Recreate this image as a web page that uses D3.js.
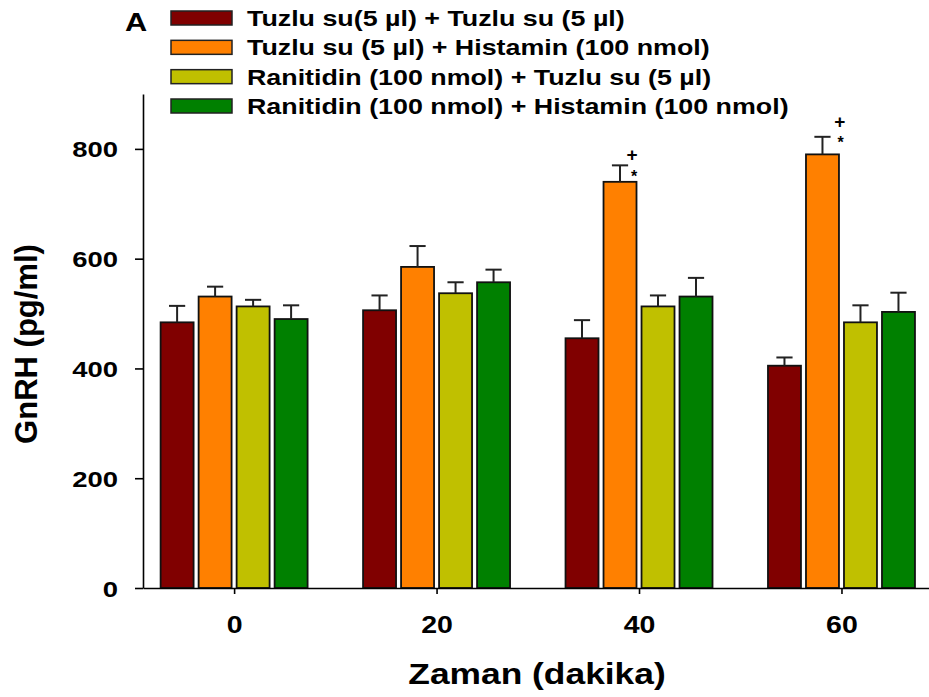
<!DOCTYPE html>
<html>
<head>
<meta charset="utf-8">
<script src="https://cdn.jsdelivr.net/npm/d3@7"></script>
<style>
  html, body { margin: 0; padding: 0; background: #fff; }
  svg { display: block; }
  text { font-family: "Liberation Sans", Arial, sans-serif; font-weight: bold; fill: #000; }
</style>
</head>
<body>
<svg id="chart" width="929" height="697"></svg>
<script>
// Sampling times (min)
const times = [0, 20, 40, 60];

// Treatment groups
const seriesNames = [
  "Tuzlu su(5 µl) + Tuzlu su (5 µl)",
  "Tuzlu su (5 µl) + Histamin (100 nmol)",
  "Ranitidin (100 nmol) + Tuzlu su (5 µl)",
  "Ranitidin (100 nmol) + Histamin (100 nmol)"
];
const seriesColors = ["#800000", "#ff8000", "#c0c000", "#008000"];

// GnRH means (pg/ml) per time point
const salineSaline        = [484, 506, 455, 405];
const salineHistamine     = [531, 585, 740, 790];
const ranitidineSaline    = [513, 537, 513, 484];
const ranitidineHistamine = [490, 557, 531, 503];

// Standard errors (pg/ml)
const salineSalineErr        = [30, 27, 33, 15];
const salineHistamineErr     = [18, 38, 30, 32];
const ranitidineSalineErr    = [12, 20, 20, 31];
const ranitidineHistamineErr = [25, 23, 34, 35];

// Significance marks: time, series index, symbol and placement (value units)
const marks = [
  { time: 40, series: 1, symbol: "+", dt: 1.2, value: 790 },
  { time: 40, series: 1, symbol: "*", dt: 1.4, value: 759 },
  { time: 60, series: 1, symbol: "+", dt: 1.7, value: 849 },
  { time: 60, series: 1, symbol: "*", dt: 1.8, value: 820 }
];

const yTicks = [0, 200, 400, 600, 800];
const xTicks = [0, 20, 40, 60];

const means = [salineSaline, salineHistamine, ranitidineSaline, ranitidineHistamine];
const errs = [salineSalineErr, salineHistamineErr, ranitidineSalineErr, ranitidineHistamineErr];

const rows = [];
times.forEach((t, i) => {
  seriesNames.forEach((s, j) => {
    rows.push({ time: t, series: j, mean: means[j][i], err: errs[j][i] });
  });
});

const svg = d3.select("#chart");
const STRETCH = 1.22;

const x = d3.scaleLinear().domain([-9, 70]).range([143, 942.7]);
const y = d3.scaleLinear().domain([0, 900]).range([588, 94]);
const inner = d3.scaleBand().domain(d3.range(seriesNames.length))
  .range([-7.26, 7.26]).paddingInner(0.132).paddingOuter(0);

const barW = x(inner.bandwidth()) - x(0);
const capHalf = (x(0.8) - x(0));

// Bars
const g = svg.append("g");
g.selectAll("rect.bar").data(rows).join("rect")
  .attr("class", "bar")
  .attr("x", d => x(d.time + inner(d.series)))
  .attr("width", barW)
  .attr("y", d => y(d.mean))
  .attr("height", d => y(0) - y(d.mean))
  .attr("fill", d => seriesColors[d.series])
  .attr("stroke", "#111")
  .attr("stroke-width", 1.8);

// Upper error bars
const cx = d => x(d.time + inner(d.series) + inner.bandwidth() / 2);
g.selectAll("line.err").data(rows).join("line")
  .attr("class", "err")
  .attr("x1", cx).attr("x2", cx)
  .attr("y1", d => y(d.mean)).attr("y2", d => y(d.mean + d.err))
  .attr("stroke", "#222").attr("stroke-width", 2);
g.selectAll("line.cap").data(rows).join("line")
  .attr("class", "cap")
  .attr("x1", d => cx(d) - capHalf).attr("x2", d => cx(d) + capHalf)
  .attr("y1", d => y(d.mean + d.err)).attr("y2", d => y(d.mean + d.err))
  .attr("stroke", "#222").attr("stroke-width", 2);

// Significance symbols
svg.selectAll("text.mark").data(marks).join("text")
  .attr("class", "mark")
  .attr("text-anchor", "middle")
  .attr("dominant-baseline", "central")
  .attr("font-size", d => d.symbol === "+" ? 19 : 16)
  .attr("dy", d => d.symbol === "*" ? "0.3em" : "0")
  .attr("transform", d => `translate(${x(d.time + inner(d.series) + inner.bandwidth() / 2 + d.dt)},${y(d.value)})`)
  .text(d => d.symbol);

// Y axis
const yAxis = svg.append("g")
  .attr("transform", `translate(${x(-9)},0)`)
  .call(d3.axisLeft(y).tickValues(yTicks).tickSize(8).tickSizeOuter(0).tickFormat(d3.format("d")));
yAxis.select(".domain").attr("stroke", "#000").attr("stroke-width", 1.6);
yAxis.selectAll(".tick line").attr("stroke", "#000").attr("stroke-width", 1.6);
yAxis.selectAll(".tick text")
  .attr("x", 0).attr("dy", "0.36em")
  .attr("transform", `translate(-25,0) scale(${STRETCH},1)`)
  .attr("font-size", 22.5).attr("font-family", null).attr("fill", "#000");

// X axis
const xAxis = svg.append("g")
  .attr("transform", `translate(0,${y(0)})`)
  .call(d3.axisBottom(x).tickValues(xTicks).tickSize(6).tickSizeOuter(0).tickFormat(d3.format("d")));
xAxis.select(".domain").attr("stroke", "#000").attr("stroke-width", 1.6);
xAxis.selectAll(".tick line").attr("stroke", "#000").attr("stroke-width", 1.6);
xAxis.selectAll(".tick text")
  .attr("y", 0).attr("dy", 0)
  .attr("transform", `translate(0,45) scale(1.24,1)`)
  .attr("font-size", 23).attr("font-family", null).attr("fill", "#000");

// Axis titles
svg.append("text")
  .attr("text-anchor", "middle")
  .attr("font-size", 29)
  .attr("transform", `translate(537,684) scale(${STRETCH},1)`)
  .text("Zaman (dakika)");

svg.append("text")
  .attr("text-anchor", "middle")
  .attr("font-size", 31)
  .attr("transform", "translate(37,344) rotate(-90)")
  .text("GnRH (pg/ml)");

// Panel letter
svg.append("text")
  .attr("font-size", 25)
  .attr("transform", `translate(125,31) scale(1.23,1)`)
  .text("A");

// Legend
const legend = svg.append("g");
const legendY = d3.scalePoint().domain(d3.range(seriesNames.length)).range([18, 106]);
const items = legend.selectAll("g").data(seriesNames).join("g")
  .attr("transform", (d, i) => `translate(171,${legendY(i)})`);
items.append("rect")
  .attr("x", 0).attr("y", -7).attr("width", 61).attr("height", 14)
  .attr("fill", (d, i) => seriesColors[i])
  .attr("stroke", "#222").attr("stroke-width", 1.5);
items.append("text")
  .attr("font-size", 22)
  .attr("transform", `translate(76,8) scale(1.22,1)`)
  .text(d => d);
</script>
</body>
</html>
